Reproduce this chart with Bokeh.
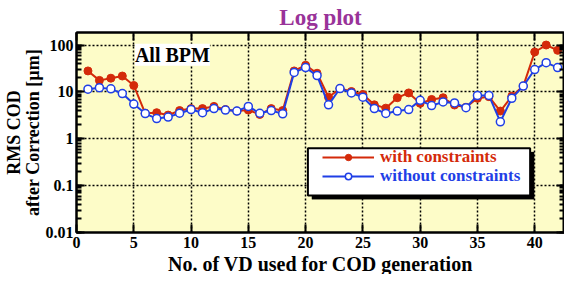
from bokeh.plotting import figure
from bokeh.models import (LinearAxis, LogAxis, Range1d, Legend, LegendItem, Label, Title,
                          BoxAnnotation, FixedTicker, LogTicker, CustomJSTickFormatter)
from bokeh.embed import file_html
from bokeh.resources import INLINE

# ---- data ----
vd = list(range(1, 43))
with_constraints = [28, 17.6, 19.6, 21.8, 13.7, 3.5, 3.6, 3.2, 4.0, 4.4,
                    4.4, 4.9, 4.2, 3.9, 4.1, 3.3, 4.4, 4.0, 28, 37,
                    25, 7.7, 11.8, 10.2, 8.8, 5.3, 4.5, 7.5, 9.5, 5.7,
                    6.9, 7.5, 5.25, 4.7, 7.3, 7.9, 3.9, 8.1, 13.3, 71,
                    100, 77]
without_constraints = [11.4, 12.3, 11.6, 9.2, 5.5, 3.45, 2.7, 2.9, 3.5, 4.2,
                       3.6, 4.4, 4.1, 3.9, 4.9, 3.5, 4.0, 3.4, 26, 33,
                       22.3, 5.3, 11.8, 9.5, 7.7, 4.4, 3.46, 3.9, 4.2, 6.6,
                       5.1, 6.1, 5.8, 4.6, 8.4, 8.4, 2.3, 7.3, 13.3, 30,
                       42, 33]
xticks = [0, 5, 10, 15, 20, 25, 30, 35, 40]
yticks = [0.01, 0.1, 1, 10, 100]
ytick_labels = ["0.01", "0.1", "1", "10", "100"]
x_title = "No. of VD used for COD generation"
y_title = "RMS COD\nafter Correction [µm]"

RED = "#d42a0a"
BLUE = "#1f3fe6"
PURPLE = "#993399"
FONT = "Liberation Serif"

p = figure(width=564, height=274, output_backend="svg", toolbar_location=None,
           y_axis_type="log", x_range=Range1d(0, 42.6), y_range=Range1d(0.01, 185),
           min_border_left=0, min_border_right=0, min_border_top=0, min_border_bottom=0)
p.background_fill_color = "#fdfcc8"
p.border_fill_color = "white"
p.outline_line_color = "black"
p.outline_line_width = 2

p.title.text = "Log plot"
p.title.align = "center"
p.title.text_color = PURPLE
p.title.text_font = FONT
p.title.text_font_style = "bold"
p.title.text_font_size = "23px"
p.title.offset = 0
p.title.standoff = 5
p.title.text_line_height = 1.0

# x-axis title as a bottom title (tight layout)
p.add_layout(Title(text=x_title, align="center", text_font=FONT, text_font_style="bold",
                   text_font_size="20px", text_color="black", standoff=0, offset=0,
                   text_line_height=1.0), "below")

# grid
for g in (p.xgrid, p.ygrid):
    g.grid_line_color = "black"
    g.grid_line_dash = "2 2"
    g.grid_line_width = 1.5
p.xgrid.ticker = FixedTicker(ticks=xticks)
p.ygrid.ticker = FixedTicker(ticks=yticks)

def style_axis(ax, labels=True):
    ax.axis_line_width = 2
    ax.major_tick_in = 8
    ax.major_tick_out = 0
    ax.major_tick_line_width = 2
    ax.minor_tick_in = 5
    ax.minor_tick_out = 0
    ax.minor_tick_line_width = 2
    ax.major_label_text_font = FONT
    ax.major_label_text_font_style = "bold"
    ax.major_label_text_font_size = "16px"
    ax.major_label_text_color = "black"
    ax.axis_label_text_font = FONT
    ax.axis_label_text_font_style = "bold"
    ax.axis_label_text_font_size = "20px"
    ax.axis_label_text_color = "black"
    if not labels:
        ax.formatter = CustomJSTickFormatter(code="return ''")
        ax.major_label_standoff = 0

xa = p.xaxis[0]
style_axis(xa)
xa.ticker = FixedTicker(ticks=xticks)
xa.minor_tick_line_color = None
xa.major_label_standoff = 4

ya = p.yaxis[0]
style_axis(ya)
ya.ticker = LogTicker(num_minor_ticks=10)
ya.major_label_overrides = {t: s for t, s in zip(yticks, ytick_labels)}
ya.major_label_standoff = 3
ya.axis_label = y_title
ya.axis_label_text_font_size = "18px"
ya.axis_label_text_line_height = 0.95
ya.axis_label_standoff = 0

top = LinearAxis(ticker=FixedTicker(ticks=xticks))
style_axis(top, labels=False)
top.minor_tick_line_color = None
p.add_layout(top, "above")

right = LogAxis(ticker=LogTicker(num_minor_ticks=10))
style_axis(right, labels=False)
p.add_layout(right, "right")

# data
r1 = p.line(vd, with_constraints, line_color=RED, line_width=2)
m1 = p.scatter(vd, with_constraints, size=8, fill_color=RED, line_color=RED)
r2 = p.line(vd, without_constraints, line_color=BLUE, line_width=2)
m2 = p.scatter(vd, without_constraints, size=8, fill_color="white", line_color=BLUE,
               line_width=1.5)

# label "All BPM"
p.add_layout(Label(x=5.1, y=36, text="All BPM",
                   text_font=FONT, text_font_style="bold", text_font_size="20px",
                   text_color="black", background_fill_color="white",
                   text_baseline="bottom", text_align="left"))

# legend box with shadow
p.add_layout(BoxAnnotation(left=20.55, right=39.95, bottom=0.051, top=0.52,
                           fill_color="black", fill_alpha=1, line_color="black"))
p.add_layout(BoxAnnotation(left=20.2, right=39.6, bottom=0.0615, top=0.628,
                           fill_color="white", fill_alpha=1, line_color="black",
                           line_width=2, line_alpha=1))

def make_legend(label, rends, color, loc):
    lg = Legend(items=[LegendItem(label=label, renderers=rends)], location=loc,
                padding=0, margin=0, spacing=0, border_line_color=None,
                background_fill_alpha=0, glyph_width=52, glyph_height=16,
                label_height=16, label_standoff=6,
                label_text_font=FONT, label_text_font_style="bold",
                label_text_font_size="17px", label_text_color=color)
    p.add_layout(lg, "center")

make_legend("with constraints", [r1, m1], RED, (246, 65))
make_legend("without constraints", [r2, m2], BLUE, (246, 46))

open("out.html", "w").write(file_html(p, INLINE))
